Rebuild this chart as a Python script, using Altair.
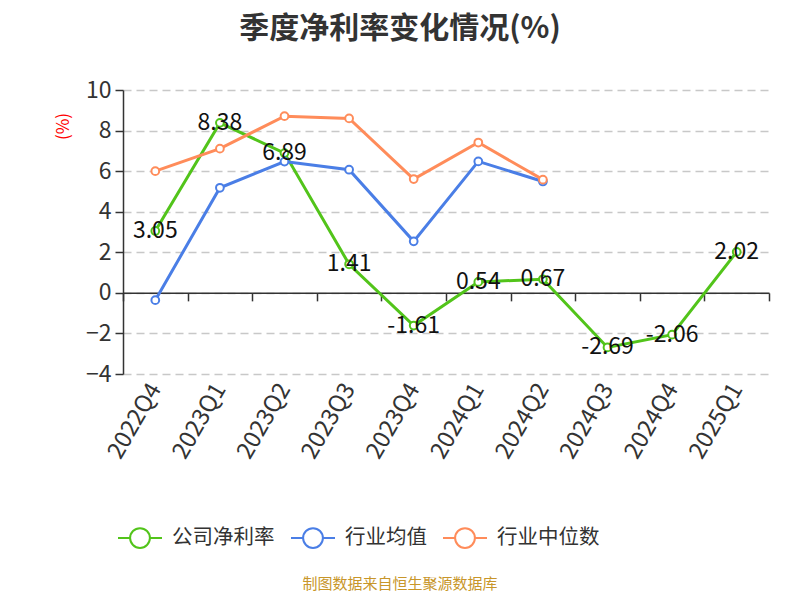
import altair as alt
import pandas as pd

quarters = ["2022Q4", "2023Q1", "2023Q2", "2023Q3", "2023Q4", "2024Q1", "2024Q2", "2024Q3", "2024Q4", "2025Q1"]
company = [3.05, 8.38, 6.89, 1.41, -1.61, 0.54, 0.67, -2.69, -2.06, 2.02]
industry_avg = [-0.36, 5.18, 6.47, 6.07, 2.54, 6.48, 5.49, None, None, None]
industry_median = [6.0, 7.11, 8.71, 8.6, 5.61, 7.41, 5.58, None, None, None]

series_names = ["公司净利率", "行业均值", "行业中位数"]
series_colors = ["#52c41a", "#4a7ee6", "#ff8c5a"]

rows = []
for name, vals in zip(series_names, [company, industry_avg, industry_median]):
    for q, v in zip(quarters, vals):
        if v is not None:
            rows.append({"quarter": q, "value": v, "series": name})
df = pd.DataFrame(rows)
df_company = df[df["series"] == "公司净利率"].copy()
df_company["label"] = df_company["value"].map(lambda v: f"{v:.2f}")

FONT = "Noto Sans CJK SC"
W, H = 646, 284

legend_symbol = "M-1,0 L-0.45,0 M0.45,0 L1,0 M-0.45,0 A0.45,0.45 0 1,1 0.45,0 A0.45,0.45 0 1,1 -0.45,0 Z"

x_enc = alt.X(
    "quarter:N",
    sort=quarters,
    scale=alt.Scale(type="band", domain=quarters, paddingInner=0, paddingOuter=0),
    axis=alt.Axis(
        title=None,
        orient="bottom",
        offset=-(H * 4 / 14),
        tickBand="extent",
        tickSize=8,
        tickColor="#333333",
        tickWidth=1.5,
        domainColor="#333333",
        domainWidth=1.5,
        labelAngle=-60,
        labelAlign="right",
        labelBaseline="middle",
        labelPadding=84,
        labelFontSize=23.5,
        labelColor="#333333",
        labelFont=FONT,
        labelOverlap=False,
        grid=False,
    ),
)

y_enc = alt.Y(
    "value:Q",
    scale=alt.Scale(domain=[-4, 10], nice=False, zero=False),
    axis=alt.Axis(
        title="(%)",
        titleColor="#ff0000",
        titleFontSize=17,
        titleFontWeight="normal",
        titleFont=FONT,
        titleAngle=-90,
        titleAlign="center",
        titleBaseline="middle",
        titleX=-60,
        titleY=36,
        values=[-4, -2, 0, 2, 4, 6, 8, 10],
        tickSize=8,
        tickColor="#333333",
        tickWidth=1.5,
        domainColor="#333333",
        domainWidth=1.5,
        labelFontSize=23,
        labelColor="#333333",
        labelFont=FONT,
        labelPadding=4,
        grid=True,
        gridColor="#c8c8c8",
        gridDash=[8, 5],
        gridWidth=1.5,
    ),
)

color_enc = alt.Color(
    "series:N",
    scale=alt.Scale(domain=series_names, range=series_colors),
    legend=alt.Legend(
        title=None,
        orient="none",
        direction="horizontal",
        legendX=-6,
        legendY=425,
        symbolType=legend_symbol,
        symbolSize=1936,
        symbolStrokeWidth=2,
        symbolFillColor="white",
        labelFontSize=20.5,
        labelColor="#333333",
        labelFont=FONT,
        labelOffset=9,
        columnPadding=12,
    ),
)

lines = alt.Chart(df).mark_line(strokeWidth=3).encode(
    x=x_enc, y=y_enc, color=color_enc, detail="series:N"
)
points = alt.Chart(df).mark_point(
    shape="circle", filled=True, fill="white", size=60, strokeWidth=2, opacity=1
).encode(x=x_enc, y=y_enc, stroke=alt.Stroke("series:N", scale=alt.Scale(domain=series_names, range=series_colors), legend=None))

labels = alt.Chart(df_company).mark_text(
    fontSize=23, color="#111111", font=FONT, align="center", baseline="middle"
).encode(x=x_enc, y=y_enc, text="label:N")

source = alt.Chart(pd.DataFrame({"t": ["制图数据来自恒生聚源数据库"]})).mark_text(
    fontSize=15, color="#c8962a", font=FONT, align="center", baseline="middle"
).encode(x=alt.value(277), y=alt.value(494), text="t:N")

chart = alt.layer(lines, points, labels, source).properties(
    width=W,
    height=H,
    autosize=alt.AutoSizeParams(type="none"),
    padding={"left": 115, "top": 82, "right": 23, "bottom": 218},
    title=alt.Title(
        "季度净利率变化情况(%)",
        fontSize=30,
        fontWeight="bold",
        color="#333333",
        font=FONT,
        anchor="middle",
        dx=-46,
        offset=35,
    ),
).configure_view(stroke=None)

chart.save("out.html", embed_options={"renderer": "svg", "actions": False})
